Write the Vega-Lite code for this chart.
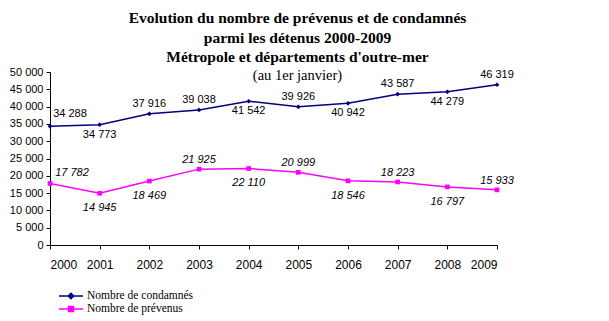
{
  "$schema": "https://vega.github.io/schema/vega-lite/v6.json",
  "autosize": "none",
  "width": 447,
  "height": 173,
  "padding": {"left": 50, "top": 72, "right": 112, "bottom": 76},
  "background": "white",
  "title": {
    "text": ["Evolution du nombre de prévenus et de condamnés", "parmi les détenus 2000-2009", "Métropole et départements d'outre-mer"],
    "subtitle": "(au 1er janvier)",
    "anchor": "middle",
    "dx": 24,
    "offset": -16,
    "font": "Liberation Serif",
    "fontSize": 15.5,
    "fontWeight": "bold",
    "lineHeight": 19.5,
    "color": "black",
    "subtitleFont": "Liberation Serif",
    "subtitleFontSize": 14.5,
    "subtitleColor": "black",
    "subtitlePadding": 3
  },
  "config": {
    "locale": {"number": {"decimal": ",", "thousands": " ", "grouping": [3], "currency": ["", " €"]}},
    "view": {"stroke": null},
    "axis": {"grid": false, "domainColor": "black", "tickColor": "black", "labelColor": "black", "labelFont": "Liberation Sans", "labelFontSize": 11, "title": null, "tickSize": 4}
  },
  "data": {
    "values": [
      {"annee": 2000, "serie": "Nombre de condamnés", "valeur": 34288},
      {"annee": 2001, "serie": "Nombre de condamnés", "valeur": 34773},
      {"annee": 2002, "serie": "Nombre de condamnés", "valeur": 37916},
      {"annee": 2003, "serie": "Nombre de condamnés", "valeur": 39038},
      {"annee": 2004, "serie": "Nombre de condamnés", "valeur": 41542},
      {"annee": 2005, "serie": "Nombre de condamnés", "valeur": 39926},
      {"annee": 2006, "serie": "Nombre de condamnés", "valeur": 40942},
      {"annee": 2007, "serie": "Nombre de condamnés", "valeur": 43587},
      {"annee": 2008, "serie": "Nombre de condamnés", "valeur": 44279},
      {"annee": 2009, "serie": "Nombre de condamnés", "valeur": 46319},
      {"annee": 2000, "serie": "Nombre de prévenus", "valeur": 17782},
      {"annee": 2001, "serie": "Nombre de prévenus", "valeur": 14945},
      {"annee": 2002, "serie": "Nombre de prévenus", "valeur": 18469},
      {"annee": 2003, "serie": "Nombre de prévenus", "valeur": 21925},
      {"annee": 2004, "serie": "Nombre de prévenus", "valeur": 22110},
      {"annee": 2005, "serie": "Nombre de prévenus", "valeur": 20999},
      {"annee": 2006, "serie": "Nombre de prévenus", "valeur": 18546},
      {"annee": 2007, "serie": "Nombre de prévenus", "valeur": 18223},
      {"annee": 2008, "serie": "Nombre de prévenus", "valeur": 16797},
      {"annee": 2009, "serie": "Nombre de prévenus", "valeur": 15933}
    ]
  },
  "encoding": {
    "x": {"field": "annee", "type": "quantitative", "scale": {"domain": [2000, 2009], "nice": false, "zero": false},
      "axis": {"values": [2000, 2001, 2002, 2003, 2004, 2005, 2006, 2007, 2008, 2009], "format": "d", "labelPadding": 10, "labelFont": "Liberation Sans", "labelFontSize": 12}},
    "y": {"field": "valeur", "type": "quantitative", "scale": {"domain": [0, 50000], "nice": false},
      "axis": {"values": [0, 5000, 10000, 15000, 20000, 25000, 30000, 35000, 40000, 45000, 50000], "format": ",d", "labelPadding": 3}}
  },
  "layer": [
    {
      "mark": {"type": "line", "strokeWidth": 1.5},
      "encoding": {
        "color": {"field": "serie", "type": "nominal",
          "scale": {"domain": ["Nombre de condamnés", "Nombre de prévenus"], "range": ["#000080", "#FF00FF"]},
          "legend": {
            "title": null, "orient": "none", "legendX": 14, "legendY": 217, "padding": 0,
            "symbolSize": 144, "rowPadding": -1, "labelOffset": 9,
            "labelFont": "Liberation Serif", "labelFontSize": 11.5, "labelColor": "black",
            "encode": {"symbols": {"update": {
              "shape": {"signal": "datum.value === 'Nombre de condamnés' ? 'M-2,0H2M0,-0.45L0.45,0L0,0.45L-0.45,0Z' : 'M-2,0H2M-0.4,-0.4H0.4V0.4H-0.4Z'"},
              "fill": {"signal": "datum.value === 'Nombre de condamnés' ? '#000080' : '#FF00FF'"},
              "stroke": {"signal": "datum.value === 'Nombre de condamnés' ? '#000080' : '#FF00FF'"},
              "strokeWidth": {"value": 1.5},
              "opacity": {"value": 1}
            }}}
          }}
      }
    },
    {
      "transform": [{"filter": {"field": "serie", "equal": "Nombre de condamnés"}}],
      "mark": {"type": "point", "filled": true, "size": 22, "opacity": 1, "shape": "diamond", "color": "#000080"}
    },
    {
      "transform": [{"filter": {"field": "serie", "equal": "Nombre de prévenus"}}],
      "mark": {"type": "point", "filled": true, "size": 22, "opacity": 1, "shape": "square", "color": "#FF00FF"}
    },
    {
      "transform": [{"filter": {"and": [{"field": "serie", "equal": "Nombre de condamnés"}, {"field": "annee", "oneOf": [2002, 2003, 2005, 2007, 2009]}]}}],
      "mark": {"type": "text", "font": "Liberation Sans", "fontSize": 11, "color": "black", "dy": -10, "baseline": "middle"},
      "encoding": {"text": {"field": "valeur", "type": "quantitative", "format": ",d"}}
    },
    {
      "transform": [{"filter": {"and": [{"field": "serie", "equal": "Nombre de condamnés"}, {"field": "annee", "oneOf": [2000]}]}}],
      "mark": {"type": "text", "font": "Liberation Sans", "fontSize": 11, "color": "black", "dy": -12, "dx": 20, "baseline": "middle"},
      "encoding": {"text": {"field": "valeur", "type": "quantitative", "format": ",d"}}
    },
    {
      "transform": [{"filter": {"and": [{"field": "serie", "equal": "Nombre de condamnés"}, {"field": "annee", "oneOf": [2001, 2004, 2006, 2008]}]}}],
      "mark": {"type": "text", "font": "Liberation Sans", "fontSize": 11, "color": "black", "dy": 10, "baseline": "middle"},
      "encoding": {"text": {"field": "valeur", "type": "quantitative", "format": ",d"}}
    },
    {
      "transform": [{"filter": {"and": [{"field": "serie", "equal": "Nombre de prévenus"}, {"field": "annee", "oneOf": [2003, 2005, 2007, 2009]}]}}],
      "mark": {"type": "text", "font": "Liberation Sans", "fontSize": 11, "fontStyle": "italic", "color": "black", "dy": -9, "baseline": "middle"},
      "encoding": {"text": {"field": "valeur", "type": "quantitative", "format": ",d"}}
    },
    {
      "transform": [{"filter": {"and": [{"field": "serie", "equal": "Nombre de prévenus"}, {"field": "annee", "oneOf": [2000]}]}}],
      "mark": {"type": "text", "font": "Liberation Sans", "fontSize": 11, "fontStyle": "italic", "color": "black", "dy": -10, "dx": 22, "baseline": "middle"},
      "encoding": {"text": {"field": "valeur", "type": "quantitative", "format": ",d"}}
    },
    {
      "transform": [{"filter": {"and": [{"field": "serie", "equal": "Nombre de prévenus"}, {"field": "annee", "oneOf": [2001, 2002, 2004, 2006, 2008]}]}}],
      "mark": {"type": "text", "font": "Liberation Sans", "fontSize": 11, "fontStyle": "italic", "color": "black", "dy": 15, "baseline": "middle"},
      "encoding": {"text": {"field": "valeur", "type": "quantitative", "format": ",d"}}
    }
  ]
}
